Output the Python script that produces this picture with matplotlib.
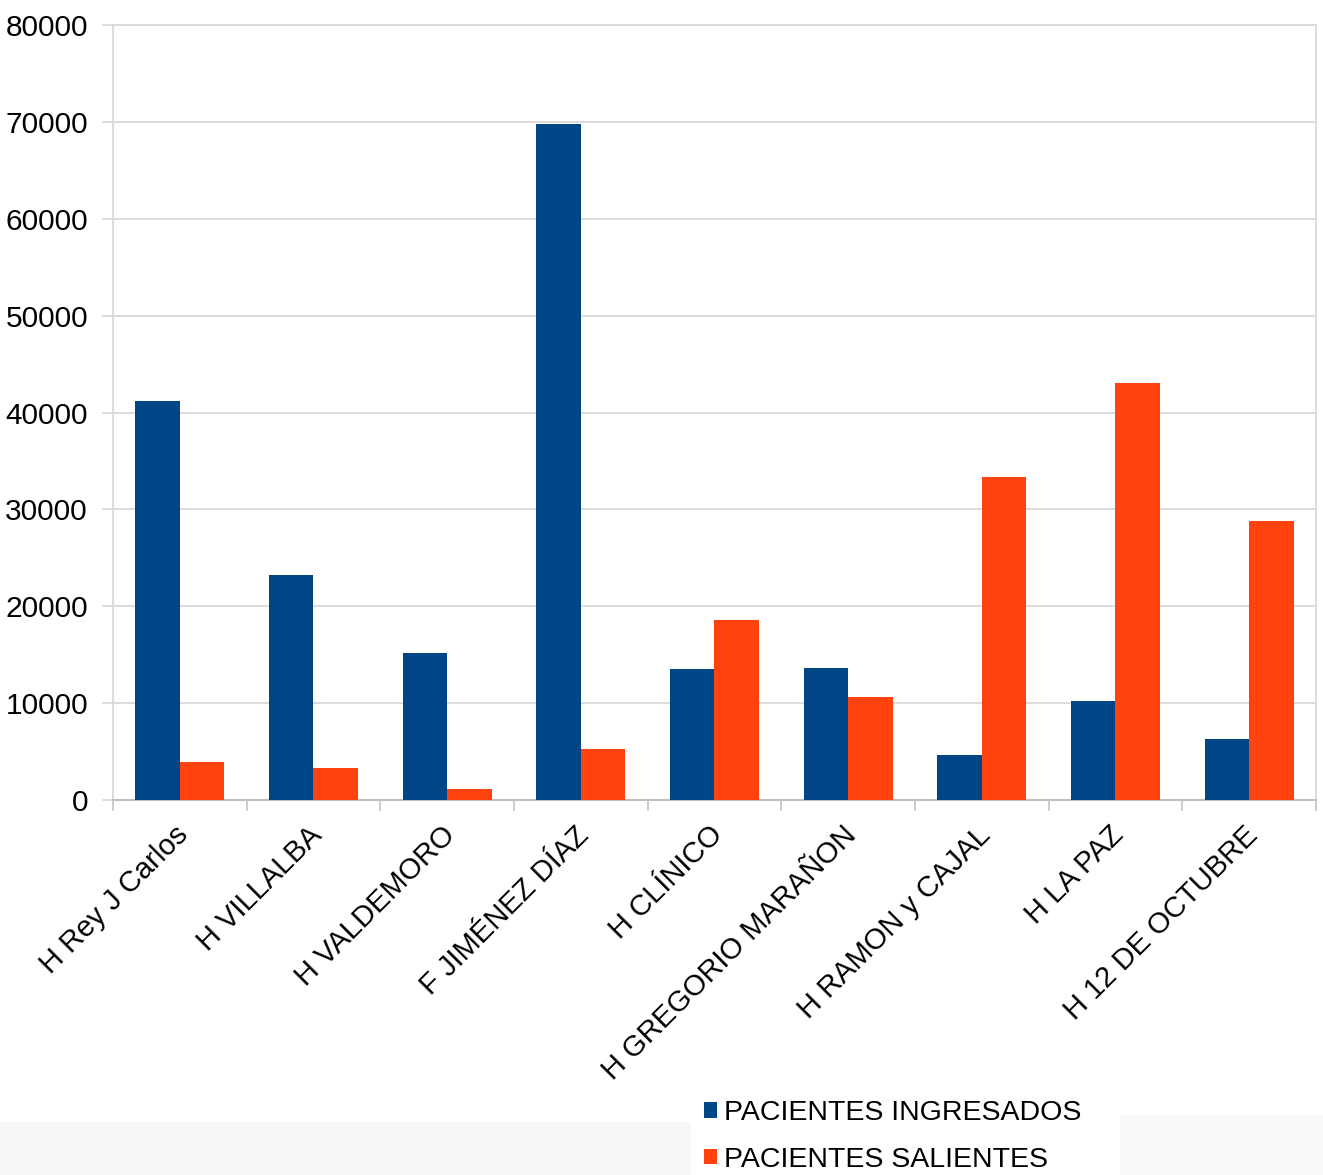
import matplotlib
import matplotlib.pyplot as plt
import numpy as np
from matplotlib.patches import Rectangle
from matplotlib.transforms import ScaledTranslation

matplotlib.use("agg")

hospitales = [
    "H Rey J Carlos",
    "H VILLALBA",
    "H VALDEMORO",
    "F JIMÉNEZ DÍAZ",
    "H CLÍNICO",
    "H GREGORIO MARAÑON",
    "H RAMON y CAJAL",
    "H LA PAZ",
    "H 12 DE OCTUBRE",
]
ingresados = [41200, 23200, 15200, 69800, 13500, 13600, 4600, 10200, 6300]
salientes = [3900, 3300, 1100, 5300, 18600, 10600, 33300, 43000, 28800]
yticks = [0, 10000, 20000, 30000, 40000, 50000, 60000, 70000, 80000]

plt.rcParams["font.family"] = ["Liberation Sans", "DejaVu Sans"]

fig = plt.figure(figsize=(13.23, 11.75), dpi=100)
ax = fig.add_axes([0.0854, 0.3191, 0.9093, 0.6596])

x = np.arange(len(hospitales))
w = 0.333
ax.bar(x - w / 2, ingresados, w, color="#004586", label="PACIENTES INGRESADOS", zorder=3)
ax.bar(x + w / 2, salientes, w, color="#ff420e", label="PACIENTES SALIENTES", zorder=3)

ax.set_xlim(-0.5, len(hospitales) - 0.5)
ax.set_ylim(0, 80000)
ax.set_yticks(yticks)
ax.set_yticklabels([str(v) for v in yticks], fontsize=21.5)
ax.yaxis.grid(True, color="#d9d9d9", linewidth=1.3, zorder=0)
ax.tick_params(axis="y", length=8, color="#d9d9d9", width=1.3, pad=10)

# category labels centered, ticks at category boundaries
ax.set_xticks(x)
ax.set_xticklabels(hospitales, rotation=45, ha="right", rotation_mode="anchor", fontsize=21)
ax.tick_params(axis="x", length=0, pad=15)
shift = ScaledTranslation(-6 / 100, 0, fig.dpi_scale_trans)
for lbl in ax.get_xticklabels():
    lbl.set_transform(lbl.get_transform() + shift)
ax.set_xticks(np.arange(-0.5, len(hospitales)), minor=True)
ax.tick_params(axis="x", which="minor", length=8, color="#c8c8c8", width=1.3)

for side in ["left", "right", "top"]:
    ax.spines[side].set_color("#d9d9d9")
    ax.spines[side].set_linewidth(1.3)
ax.spines["bottom"].set_color("#c0c0c0")
ax.spines["bottom"].set_linewidth(1.5)

# faint screenshot band at the bottom
fig.patches.append(Rectangle((0, 0), 690 / 1323, 53 / 1175, transform=fig.transFigure,
                             color="#f7f7f7", zorder=0))
fig.patches.append(Rectangle((1120 / 1323, 0), 203 / 1323, 60 / 1175, transform=fig.transFigure,
                             color="#f9f9f9", zorder=0))

fig.legend(
    loc="upper left",
    bbox_to_anchor=(690 / 1323, 1 - 1086 / 1175),
    frameon=False,
    fontsize=20.5,
    handlelength=0.45,
    handleheight=0.45,
    handletextpad=0.25,
    labelspacing=0.72,
    borderpad=0,
)

fig.savefig("out.png", dpi=100)
plt.close(fig)
